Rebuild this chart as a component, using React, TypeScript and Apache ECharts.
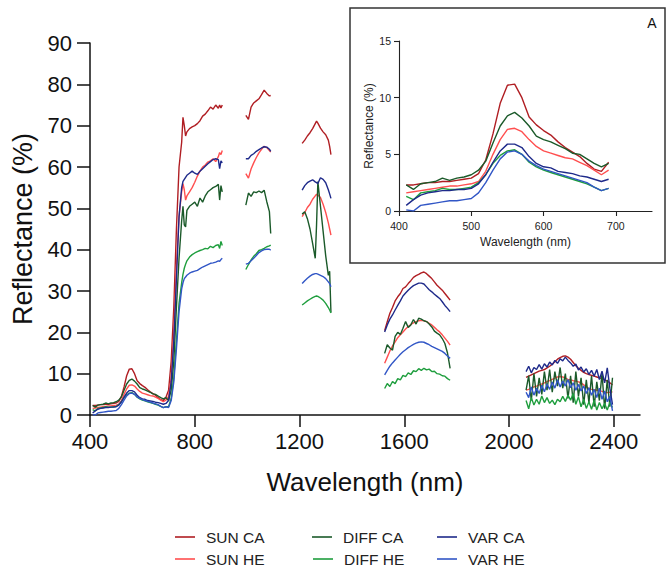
import React, { useEffect, useRef } from "react";
import * as echarts from "echarts";

const SERIES_NAMES = ["SUN CA", "SUN HE", "DIFF CA", "DIFF HE", "VAR CA", "VAR HE"];
const COLORS = ["#b01e23", "#ff4f4f", "#1b5a2a", "#1f9e3e", "#1e2a8a", "#3156c6"];

const MAIN_X_TICKS = [400, 800, 1200, 1600, 2000, 2400];
const INSET_X_TICKS = [400, 500, 600, 700];

// Wavelengths (nm) of each measured segment (water-absorption bands removed)
const WL_SEGMENTS = [
  [410, 420, 430, 440, 450, 460, 470, 480, 490, 500, 510, 520, 530, 540, 550, 560, 570, 580, 590, 600,
   610, 620, 630, 640, 650, 660, 670, 680, 690,
   700, 710, 720, 730, 740, 750, 755, 760, 765, 770, 780, 790, 800, 810, 820, 830, 840, 850, 860, 870, 880, 890,
   895, 900, 905],
  [995, 1005, 1015, 1025, 1035, 1045, 1055, 1065, 1075, 1085, 1090],
  [1210, 1220, 1230, 1240, 1250, 1260, 1265, 1270, 1280, 1290, 1300, 1310, 1315, 1320],
  [1525, 1535, 1545, 1555, 1565, 1575, 1585, 1595, 1605, 1615, 1625, 1635, 1645, 1655, 1665, 1675, 1685, 1695,
   1705, 1715, 1725, 1735, 1745, 1755, 1765, 1775],
  [2065, 2075, 2085, 2095, 2105, 2115, 2125, 2135, 2145, 2155, 2165, 2175, 2185, 2195, 2205, 2215, 2225, 2235,
   2245, 2255, 2265, 2275, 2285, 2295, 2305, 2315, 2325, 2335, 2345, 2355, 2365, 2375, 2385, 2395],
];

const INSET_MAX_WL = 690;

const SUN_CA = [
  [2.3, 2.3, 2.4, 2.5, 2.5, 2.6, 2.6, 2.7, 2.8, 2.9, 3.3, 4.5, 6.8, 9.5, 11.1, 11.2, 10.0, 8.3, 7.6, 7.1,
   6.7, 6.1, 5.6, 5.2, 4.8, 4.2, 3.7, 3.5, 4.3,
   6, 13, 26, 45, 60, 66, 72, 70, 67.5, 68.5, 69.3, 69.7, 70, 70.5, 71.2, 72.3, 72.8, 73.6, 74.5, 74, 75, 74.2,
   75, 74.3, 75],
  [72.5, 71.5, 74.5, 75.5, 76, 76.5, 77.5, 78.6, 77.8, 77.2, 77.3],
  [65.7, 66.5, 67.5, 68.3, 69.3, 70.5, 71.1, 70.6, 69.4, 68.5, 67.8, 66.5, 65, 63],
  [20.4, 22.6, 24.6, 26, 27.6, 28.6, 29.4, 30.6, 31, 31.8, 32.5, 33.3, 33.7, 34, 34.4, 34.6, 34.2, 33.6, 33, 32.2,
   31.4, 30.8, 30.2, 29.4, 28.6, 27.8],
  [9.1, 9.4, 9.7, 10, 10.3, 10.6, 10.8, 11, 11.4, 11.8, 12.3, 12.9, 13.5, 13.9, 14.2, 14.3, 14, 13.5, 12.7, 11.9,
   11.3, 10.8, 10.3, 10, 9.8, 9.6, 9.4, 9.2, 9, 8.8, 8.5, 8.2, 7.8, 7.3],
];

const SUN_HE = [
  [1.6, 1.7, 1.8, 1.9, 2.0, 2.1, 2.2, 2.2, 2.3, 2.4, 2.6, 3.5, 5.0, 6.3, 7.2, 7.3, 7.0, 6.3, 5.7, 5.3,
   5.1, 4.9, 4.7, 4.6, 4.3, 4.0, 3.6, 3.2, 3.6,
   4.5, 9, 20, 36, 48, 54, 56, 54.5, 52, 53, 54, 55, 56.3, 57.8, 59, 60, 60.5, 61.2, 61.5, 62, 61.3, 62.5,
   63.5, 63, 64],
  [58.4, 57.3, 59.5, 61, 62.3, 63.4, 64.3, 65, 64.7, 64, 63.6],
  [48, 49, 50.2, 51, 52.2, 53, 53.4, 53.2, 52.6, 51, 49, 46.5, 45, 43.5],
  [12.5, 14, 15.5, 16.7, 17.7, 18.7, 19.4, 20.1, 20.8, 21.4, 21.9, 22.3, 22.6, 22.8, 22.9, 22.8, 22.6, 22.2, 21.8, 21.2,
   20.6, 20.1, 19.4, 18.6, 17.8, 16.9],
  [6, 6.2, 6.5, 6.8, 7, 7.3, 7.5, 7.8, 8.1, 8.3, 8.6, 8.9, 9.2, 9.3, 9.2, 8.9, 8.6, 8.5, 8.3, 8.2,
   8, 7.8, 7.3, 6.8, 6.4, 6.2, 6.1, 6, 5.9, 5.7, 5.5, 5.4, 5.5, 5.6],
];

const DIFF_CA = [
  [2.3, 1.9, 2.4, 2.5, 2.6, 2.9, 2.7, 2.9, 3.0, 3.2, 3.6, 4.4, 6.0, 7.5, 8.4, 8.7, 8.2, 7.5, 6.6, 6.3,
   6.1, 5.8, 5.5, 5.1, 5.0, 4.6, 4.2, 3.9, 4.2,
   3.5, 6, 13, 26, 38, 47, 50.5, 46, 45.5, 49.5, 50.5, 51, 51.5, 50.5, 52.5, 51.5, 53, 54, 54.5, 55, 55.3, 55.8,
   52, 55.5, 54],
  [50.8, 53.7, 52.9, 54, 53.8, 54.2, 53.8, 54.4, 51.6, 49.2, 43.9],
  [48.6, 49.2, 47.5, 45, 41.5, 37.9, 46, 56.5, 50.5, 44.5, 38.5, 33.8, 34.8, 24.8],
  [14.9, 17, 16.2, 15.7, 19, 20, 19.5, 21, 22.6, 21.2, 21.8, 23.1, 22, 23.4, 23.2, 22.8, 22.6, 22, 21.3, 20.3,
   19.8, 19.4, 18.5, 17.3, 15, 11.3],
  [6, 9.5, 3.5, 10, 4.5, 9, 5, 10.5, 6, 11, 5.5, 10.5, 7, 11.5, 6.5, 10, 4, 9.5, 3, 10.5,
   4.5, 9, 2.5, 8.5, 3, 9.5, 2, 8, 3.5, 10, 1.5, 8.5, 2, 9],
];

const DIFF_HE = [
  [1.3, 1.0, 1.6, 1.7, 1.8, 2.0, 1.9, 1.9, 2.0, 2.1, 2.5, 3.2, 4.2, 4.9, 5.3, 5.4, 5.0, 4.3, 3.9, 3.6,
   3.4, 3.2, 3.0, 2.8, 2.6, 2.4, 2.1, 1.8, 2.0,
   2.0, 4, 9, 18, 27, 32, 34, 35.5, 36.5, 37.3, 38.2, 38.8, 39.2, 39.5, 39.8, 40, 40.3, 40.2, 40.8, 40.5, 41, 41.2,
   40.3, 42, 41],
  [35.2, 36.4, 37.5, 38.4, 39, 39.8, 40, 40.3, 40.7, 40.9, 41.1],
  [26.6, 27.1, 27.6, 28, 28.4, 28.7, 28.8, 28.7, 28.3, 27.8, 27, 26, 25.4, 24.7],
  [6.4, 7.6, 6.9, 8.1, 7.6, 8.8, 8.5, 9.6, 9.3, 10.2, 9.8, 10.7, 10.5, 11.2, 10.8, 11.3, 10.9, 11.1, 10.5, 10.6,
   10, 9.9, 9.5, 9.4, 8.8, 8.4],
  [3.5, 1.5, 4.2, 2.4, 3.8, 2.6, 4.6, 3, 4.2, 2.8, 3.6, 2.5, 3.8, 3.2, 4.5, 3.3, 4.8, 3.6, 5.2, 2.6,
   4.4, 2, 3.8, 1.6, 3.2, 1.4, 3.6, 1.2, 3, 1.5, 2.8, 1.2, 3.1, 1.8],
];

const VAR_CA = [
  [0.5, 1.0, 1.4, 1.6, 1.7, 1.8, 1.8, 1.9, 1.9, 2.0, 2.4, 3.2, 4.3, 5.3, 5.9, 5.9, 5.6, 4.8, 4.2, 3.9,
   3.8, 3.5, 3.4, 3.3, 3.1, 3.0, 2.8, 2.6, 2.8,
   3.5, 8, 18, 33, 48, 55, 56.5, 57, 57.5, 58, 58.5, 59, 58.5, 58.2, 59, 59.6, 60.2, 60.8, 61.3, 61.8, 62, 61.8,
   59.6, 61.5, 61],
  [62, 62, 62.8, 63.2, 63.8, 64.2, 64.6, 64.9, 64.8, 64.3, 63.8],
  [54.4, 55.5, 56.2, 56.6, 56.9, 56.4, 56.2, 56, 57.4, 57, 56.2, 54.5, 53.5, 52.4],
  [20.1, 21.8, 23.2, 24.2, 25.4, 26.5, 27.6, 28.8, 29.5, 30.2, 30.8, 31.3, 31.6, 31.9, 31.9, 31.7, 31, 30.3, 29.8, 29.2,
   28.7, 28.2, 27.4, 26.5, 25.8, 25],
  [10.5, 11.8, 10.2, 11.5, 11, 12.2, 11.1, 12.4, 11.6, 12.8, 12.1, 13.2, 12.5, 13.6, 13.1, 14, 13.2, 12.6, 11.8, 12.3,
   10.9, 11.6, 10.4, 11.2, 9.8, 10.8, 9.4, 11, 8.6, 10.6, 7.8, 11.4, 6.5, 2.5],
];

const VAR_HE = [
  [0.1, 0, 0.5, 0.6, 0.7, 0.8, 0.9, 0.9, 1.0, 1.1, 1.6, 2.5, 3.6, 4.6, 5.2, 5.3, 5.0, 4.4, 4.0, 3.7,
   3.5, 3.3, 3.1, 2.9, 2.7, 2.5, 2.1, 1.8, 2.0,
   1.8, 3.5, 8, 16, 25, 30.5, 32, 33, 33.4, 33.8, 34.3, 34.6, 34.8, 35, 35.4, 35.8, 36.1, 36.4, 36.7, 36.8, 37, 37.3,
   37.2, 37.6, 37.9],
  [36.5, 36.7, 37.3, 37.9, 38.6, 39.3, 39.7, 40, 40.1, 40.1, 39.9],
  [31.8, 32.5, 33.1, 33.6, 34, 34.2, 34.2, 34.1, 33.8, 33.5, 33, 32.2, 31.8, 31],
  [9.7, 10.8, 11.8, 12.6, 13.3, 14, 14.7, 15.3, 15.8, 16.3, 16.7, 17.1, 17.4, 17.6, 17.7, 17.6, 17.3, 17, 16.6, 16.3,
   16, 15.7, 15.4, 14.9, 14.3, 13.7],
  [5.5, 4.2, 6.8, 4.8, 6.5, 5.2, 7.2, 5.6, 7.5, 6.2, 8, 6.5, 8.5, 6.8, 8.2, 7, 8.6, 6.6, 7.8, 6,
   7.4, 5.8, 7, 5.2, 6.6, 4.8, 6.2, 4.2, 6.5, 3.8, 5.8, 3.2, 4.5, 1],
];

const ALL_VALUES = [SUN_CA, SUN_HE, DIFF_CA, DIFF_HE, VAR_CA, VAR_HE];

// legend layout: 3 columns x 2 rows
const LEGEND_LEFT = [175, 175, 312, 313, 437, 437];
const LEGEND_TOP = [529, 551, 529, 551, 529, 551];

function buildMain(values: number[][]) {
  const out: any[] = [];
  WL_SEGMENTS.forEach((wl, s) => {
    if (s > 0) {
      const prev = WL_SEGMENTS[s - 1];
      out.push([(prev[prev.length - 1] + wl[0]) / 2, "-"]);
    }
    wl.forEach((x, i) => out.push([x, values[s][i]]));
  });
  return out;
}

function buildInset(values: number[][]) {
  const out: any[] = [];
  WL_SEGMENTS[0].forEach((x, i) => {
    if (x <= INSET_MAX_WL) out.push([x, values[0][i]]);
  });
  return out;
}

const FONT = "'Liberation Sans', Arial, Helvetica, sans-serif";
const plain = (v: number) => String(v);

export default function App() {
  const ref = useRef<HTMLDivElement>(null);

  useEffect(() => {
    if (!ref.current) return;
    const chart = echarts.init(ref.current, null, { renderer: "svg" });

    const mainSeries = SERIES_NAMES.map((name, k) => ({
      name,
      type: "line",
      xAxisIndex: 0,
      yAxisIndex: 0,
      data: buildMain(ALL_VALUES[k]),
      symbol: "none",
      connectNulls: false,
      lineStyle: { color: COLORS[k], width: 1.4 },
      itemStyle: { color: COLORS[k] },
      z: 3,
    }));
    const insetSeries = SERIES_NAMES.map((name, k) => ({
      name,
      type: "line",
      xAxisIndex: 1,
      yAxisIndex: 1,
      data: buildInset(ALL_VALUES[k]),
      symbol: "none",
      lineStyle: { color: COLORS[k], width: 1.4 },
      itemStyle: { color: COLORS[k] },
      z: 3,
    }));

    const legends = SERIES_NAMES.map((name, k) => ({
      left: LEGEND_LEFT[k],
      top: LEGEND_TOP[k],
      data: [name],
      icon: "rect",
      itemWidth: 20,
      itemHeight: 1.6,
      selectedMode: false,
      padding: 0,
      textStyle: { fontSize: 15.5, color: "#222", fontFamily: FONT, padding: [0, 0, 0, 6] },
    }));

    const axisLineMain = { show: true, lineStyle: { color: "#111", width: 1.5 } };
    const axisLineInset = { show: true, lineStyle: { color: "#222", width: 1.1 } };

    chart.setOption({
      animation: false,
      textStyle: { fontFamily: FONT },
      grid: [
        { left: 90, right: 27, top: 43, bottom: 153 },
        { left: 399, right: 15, top: 41, bottom: 357 },
      ],
      xAxis: [
        {
          type: "value",
          gridIndex: 0,
          min: 400,
          max: 2500,
          interval: 400,
          name: "Wavelength (nm)",
          nameLocation: "middle",
          nameGap: 54,
          nameTextStyle: { fontSize: 26, color: "#111", fontFamily: FONT },
          axisLine: axisLineMain,
          axisTick: { show: true, length: 12, lineStyle: { color: "#111", width: 1.5 }, customValues: MAIN_X_TICKS },
          axisLabel: { fontSize: 22, color: "#111", margin: 15, customValues: MAIN_X_TICKS, formatter: plain },
          splitLine: { show: false },
        },
        {
          type: "value",
          gridIndex: 1,
          min: 400,
          max: 750,
          interval: 100,
          name: "Wavelength (nm)",
          nameLocation: "middle",
          nameGap: 25,
          nameTextStyle: { fontSize: 12, color: "#222", fontFamily: FONT },
          axisLine: axisLineInset,
          axisTick: { show: true, length: 5, lineStyle: { color: "#222", width: 1.1 }, customValues: INSET_X_TICKS },
          axisLabel: { fontSize: 10.5, color: "#222", margin: 9, customValues: INSET_X_TICKS, formatter: plain },
          splitLine: { show: false },
        },
      ],
      yAxis: [
        {
          type: "value",
          gridIndex: 0,
          min: 0,
          max: 90,
          interval: 10,
          name: "Reflectance (%)",
          nameLocation: "middle",
          nameGap: 54,
          nameTextStyle: { fontSize: 27, color: "#111", fontFamily: FONT },
          axisLine: axisLineMain,
          axisTick: { show: true, length: 13, lineStyle: { color: "#111", width: 1.5 } },
          axisLabel: { fontSize: 22, color: "#111", margin: 18, formatter: plain },
          splitLine: { show: false },
        },
        {
          type: "value",
          gridIndex: 1,
          min: 0,
          max: 15,
          interval: 5,
          name: "Reflectance (%)",
          nameLocation: "middle",
          nameGap: 22,
          nameTextStyle: { fontSize: 12, color: "#222", fontFamily: FONT },
          axisLine: axisLineInset,
          axisTick: { show: true, length: 5, lineStyle: { color: "#222", width: 1.1 } },
          axisLabel: { fontSize: 10.5, color: "#222", margin: 8, formatter: plain },
          splitLine: { show: false },
        },
      ],
      legend: legends,
      graphic: [
        {
          type: "rect",
          shape: { x: 350, y: 8, width: 315, height: 255 },
          style: { fill: "rgba(255,255,255,0)", stroke: "#333", lineWidth: 1.5 },
          z: 1,
        },
        {
          type: "text",
          x: 652,
          y: 23,
          style: { text: "A", fontSize: 14, fill: "#111", fontFamily: FONT, align: "center", verticalAlign: "middle" },
          z: 5,
        },
      ],
      series: [...mainSeries, ...insetSeries],
    });

    return () => chart.dispose();
  }, []);

  return <div ref={ref} style={{ width: 667, height: 568, position: "absolute", left: 0, top: 0 }} />;
}
